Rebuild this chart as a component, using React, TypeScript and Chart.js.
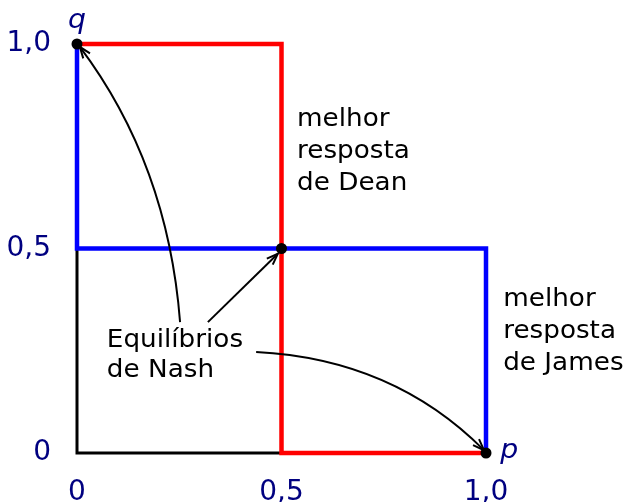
import React, { useEffect, useRef } from "react";
import { Chart, registerables } from "chart.js";

Chart.register(...registerables);

// Data (p, q) in [0,1]
const deanBestResponse = [
  { x: 0, y: 1 },
  { x: 0.5, y: 1 },
  { x: 0.5, y: 0 },
  { x: 1, y: 0 },
];
const jamesBestResponse = [
  { x: 0, y: 1 },
  { x: 0, y: 0.5 },
  { x: 1, y: 0.5 },
  { x: 1, y: 0 },
];
const axisLines = [
  { x: 0, y: 0.5 },
  { x: 0, y: 0 },
  { x: 0.5, y: 0 },
];
const nashEquilibria = [
  { x: 0, y: 1 },
  { x: 0.5, y: 0.5 },
  { x: 1, y: 0 },
];
const tickValues = [0, 0.5, 1];
const xTickLabels = ["0", "0,5", "1,0"];
const yTickLabels = ["0", "0,5", "1,0"];

const deanLabel = ["melhor", "resposta", "de Dean"];
const jamesLabel = ["melhor", "resposta", "de James"];
const nashLabel = ["Equilíbrios", "de Nash"];

// annotation anchors in data coordinates
const deanAnchor = { x: 0.538, y: 0.8 };
const jamesAnchor = { x: 1.042, y: 0.359 };
const nashAnchor = { x: 0.073, y: 0.259 };
const qAnchor = { x: 0, y: 1.04 };
const pAnchor = { x: 1.035, y: -0.012 };

// arrows: start, control (optional), end — data coordinates
const arrows = [
  { from: { x: 0.252, y: 0.32 }, ctrl: { x: 0.222, y: 0.707 }, to: { x: 0.007, y: 0.993 } },
  { from: { x: 0.32, y: 0.32 }, ctrl: null, to: { x: 0.491, y: 0.487 } },
  { from: { x: 0.438, y: 0.247 }, ctrl: { x: 0.773, y: 0.23 }, to: { x: 0.995, y: 0.007 } },
];

const NAVY = "#000080";
const FONT = "'DejaVu Sans', sans-serif";
const STRETCH = 1.05;

const annotationPlugin = {
  id: "annotations",
  afterDatasetsDraw(chart: any) {
    const { ctx } = chart;
    const xs = chart.scales.x;
    const ys = chart.scales.y;
    const px = (v: number) => xs.getPixelForValue(v);
    const py = (v: number) => ys.getPixelForValue(v);
    const text = (t: string, x: number, y: number) => {
      ctx.save();
      ctx.translate(x, y);
      ctx.scale(STRETCH, 1);
      ctx.fillText(t, 0, 0);
      ctx.restore();
    };
    ctx.save();
    // text blocks
    ctx.fillStyle = "#000";
    ctx.font = `25px ${FONT}`;
    ctx.textAlign = "left";
    ctx.textBaseline = "alphabetic";
    const block = (lines: string[], a: { x: number; y: number }, lh: number) => {
      lines.forEach((t, i) => text(t, px(a.x), py(a.y) + i * lh));
    };
    block(deanLabel, deanAnchor, 32);
    block(jamesLabel, jamesAnchor, 32);
    block(nashLabel, nashAnchor, 30);

    // axis variable names
    ctx.fillStyle = NAVY;
    ctx.font = `italic 27px ${FONT}`;
    ctx.textAlign = "center";
    text("q", px(qAnchor.x), py(qAnchor.y));
    ctx.textAlign = "left";
    text("p", px(pAnchor.x), py(pAnchor.y));

    // arrows
    ctx.strokeStyle = "#000";
    ctx.lineWidth = 2;
    arrows.forEach((a) => {
      const x0 = px(a.from.x), y0 = py(a.from.y);
      const x1 = px(a.to.x), y1 = py(a.to.y);
      ctx.beginPath();
      ctx.moveTo(x0, y0);
      let tx: number, ty: number;
      if (a.ctrl) {
        const cx = px(a.ctrl.x), cy = py(a.ctrl.y);
        ctx.quadraticCurveTo(cx, cy, x1, y1);
        tx = x1 - cx; ty = y1 - cy;
      } else {
        ctx.lineTo(x1, y1);
        tx = x1 - x0; ty = y1 - y0;
      }
      ctx.stroke();
      const ang = Math.atan2(ty, tx);
      const len = 12;
      const spread = 0.36;
      ctx.beginPath();
      ctx.moveTo(x1 - len * Math.cos(ang - spread), y1 - len * Math.sin(ang - spread));
      ctx.lineTo(x1, y1);
      ctx.lineTo(x1 - len * Math.cos(ang + spread), y1 - len * Math.sin(ang + spread));
      ctx.stroke();
    });
    ctx.restore();
  },
};

export default function App() {
  const ref = useRef<HTMLCanvasElement>(null);
  useEffect(() => {
    document.body.style.margin = "0";
    if (!ref.current) return;
    const chart = new Chart(ref.current, {
      type: "scatter",
      data: {
        datasets: [
          {
            data: nashEquilibria,
            pointRadius: 5.5,
            pointBackgroundColor: "#000",
            pointBorderWidth: 0,
            showLine: false,
            order: 0,
            clip: false,
          } as any,
          {
            data: deanBestResponse,
            borderColor: "#ff0000",
            borderWidth: 4.5,
            showLine: true,
            pointRadius: 0,
            borderJoinStyle: "miter",
            borderCapStyle: "butt",
            order: 1,
            clip: false,
          },
          {
            data: jamesBestResponse,
            borderColor: "#0000ff",
            borderWidth: 4.5,
            showLine: true,
            pointRadius: 0,
            borderJoinStyle: "miter",
            borderCapStyle: "butt",
            order: 2,
            clip: false,
          },
          {
            data: axisLines,
            borderColor: "#000",
            borderWidth: 3,
            showLine: true,
            pointRadius: 0,
            borderJoinStyle: "miter",
            order: 3,
            clip: false,
          },
        ],
      },
      options: {
        animation: false,
        responsive: false,
        events: [],
        layout: { padding: { left: 0, right: 139, top: 44, bottom: 0 } },
        plugins: { legend: { display: false }, tooltip: { enabled: false } },
        scales: {
          x: {
            type: "linear",
            min: 0,
            max: 1,
            afterBuildTicks: (s: any) => {
              s.ticks = tickValues.map((v) => ({ value: v }));
            },
            afterFit: (s: any) => {
              s.height = 49;
            },
            grid: { display: false, drawTicks: false },
            border: { display: false },
            ticks: {
              color: NAVY,
              font: { family: FONT, size: 28 },
              padding: 23,
              maxRotation: 0,
              autoSkip: false,
              callback: (_v: any, i: number) => xTickLabels[i],
            },
          },
          y: {
            type: "linear",
            min: 0,
            max: 1,
            afterBuildTicks: (s: any) => {
              s.ticks = tickValues.map((v) => ({ value: v }));
            },
            afterFit: (s: any) => {
              s.width = 77;
            },
            grid: { display: false, drawTicks: false },
            border: { display: false },
            ticks: {
              color: NAVY,
              font: { family: FONT, size: 28 },
              padding: 26,
              autoSkip: false,
              callback: (_v: any, i: number) => yTickLabels[i],
            },
          },
        },
      },
      plugins: [annotationPlugin],
    });
    return () => chart.destroy();
  }, []);
  return <canvas ref={ref} width={625} height={502} style={{ display: "block" }} />;
}
